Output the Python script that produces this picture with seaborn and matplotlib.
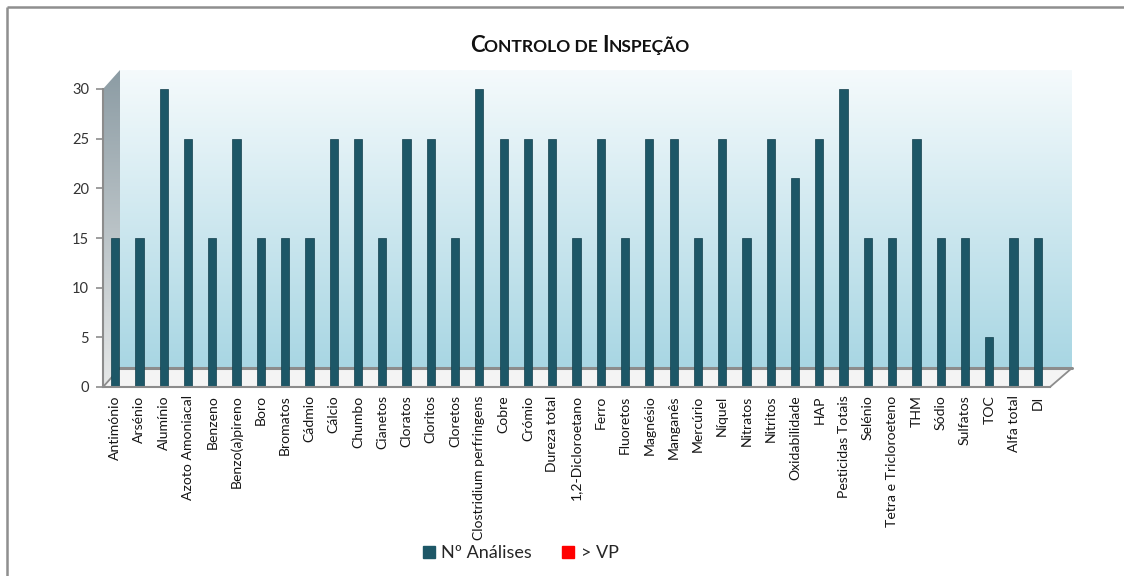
import numpy as np
import pandas as pd
import matplotlib
matplotlib.use("Agg")
import matplotlib.pyplot as plt
from matplotlib.patches import Polygon
from matplotlib.lines import Line2D
import seaborn as sns

# ---- data -------------------------------------------------------------
analitos = [
    "Antimónio", "Arsénio", "Alumínio", "Azoto Amoniacal", "Benzeno",
    "Benzo(a)pireno", "Boro", "Bromatos", "Cádmio", "Cálcio", "Chumbo",
    "Cianetos", "Cloratos", "Cloritos", "Cloretos", "Clostridium perfringens",
    "Cobre", "Crómio", "Dureza total", "1,2-Dicloroetano", "Ferro",
    "Fluoretos", "Magnésio", "Manganês", "Mercúrio", "Níquel", "Nitratos",
    "Nitritos", "Oxidabilidade", "HAP", "Pesticidas Totais", "Selénio",
    "Tetra e Tricloroeteno", "THM", "Sódio", "Sulfatos", "TOC", "Alfa total",
    "DI",
]
n_analises = [15, 15, 30, 25, 15, 25, 15, 15, 15, 25, 25, 15, 25, 25, 15, 30,
              25, 25, 25, 15, 25, 15, 25, 25, 15, 25, 15, 25, 21, 25, 30, 15,
              15, 25, 15, 15, 5, 15, 15]
acima_vp = [0] * len(analitos)
series = ["Nº Análises", "> VP"]
y_ticks = [0, 5, 10, 15, 20, 25, 30]

cores = {"Nº Análises": "#1d5767", "> VP": "#ff0000"}

df = pd.DataFrame({
    "analito": analitos * 2,
    "valor": n_analises + acima_vp,
    "serie": [series[0]] * len(analitos) + [series[1]] * len(analitos),
})

sns.set_theme(style="white")
plt.rcParams["font.family"] = ["Lato", "DejaVu Sans"]

W, H = 1124, 576
fig = plt.figure(figsize=(W / 100, H / 100), dpi=100)

# ---- background layer in pixel coordinates ---------------------------
bg = fig.add_axes([0, 0, 1, 1], zorder=0)
bg.set_xlim(0, W)
bg.set_ylim(H, 0)
bg.axis("off")

# frame lines (top and left)
bg.plot([7, 7], [7, H], color="#8f8f8f", lw=1.8, solid_capstyle="butt")
bg.plot([7, W], [7, 7], color="#8f8f8f", lw=1.8, solid_capstyle="butt")

# back wall with vertical gradient
top_c = np.array([245, 250, 252]) / 255
bot_c = np.array([168, 214, 227]) / 255
t = np.linspace(0, 1, 256)[:, None, None]
grad = top_c * (1 - t) + bot_c * t
bg.imshow(grad, extent=(120, 1072, 368, 70), aspect="auto", zorder=1,
          interpolation="bilinear")

# left side wall with gray gradient
side_poly = Polygon([(103, 387), (103, 89), (120, 70), (120, 368)],
                    closed=True, facecolor="none", edgecolor="none")
bg.add_patch(side_poly)
s_top = np.array([140, 156, 164]) / 255
s_bot = np.array([230, 232, 232]) / 255
sgrad = s_top * (1 - t) + s_bot * t
im_side = bg.imshow(sgrad, extent=(103, 120, 387, 70), aspect="auto",
                    zorder=1, interpolation="bilinear")
im_side.set_clip_path(side_poly)

# floor
floor = Polygon([(103, 387), (1050, 387), (1072, 368), (120, 368)],
                closed=True, facecolor="#f4f4f4", edgecolor="#8c8c8c",
                lw=1.3, zorder=2)
bg.add_patch(floor)
bg.plot([120, 1072], [368, 368], color="#8c8c8c", lw=2.2, zorder=2)

# ---- main axes --------------------------------------------------------
ax = fig.add_axes([103 / W, (H - 387) / H, 947 / W, 298 / H], zorder=2)
ax.set_facecolor("none")

sns.barplot(data=df, x="analito", y="valor", hue="serie", palette=cores,
            dodge=False, width=0.34, legend=False, ax=ax, saturation=1,
            edgecolor="#123f4c", linewidth=0.5)

ax.set_xlim(-0.5, len(analitos) - 0.5)
ax.set_ylim(0, 30)
ax.set_xlabel("")
ax.set_ylabel("")
ax.set_yticks(y_ticks)
ax.set_yticklabels([str(v) for v in y_ticks], fontsize=10.5, color="#333333")
ax.set_xticks(range(len(analitos)))
ax.set_xticklabels(analitos, rotation=90, fontsize=10.1, color="#151515")
ax.set_xticks(np.arange(-0.5, len(analitos), 1), minor=True)
ax.tick_params(axis="x", which="major", length=0, pad=6)
ax.tick_params(axis="x", which="minor", length=4, color="#8c8c8c",
               width=1.2, direction="out")
ax.tick_params(axis="y", length=5, color="#8c8c8c", width=1.2,
               direction="out", pad=5, left=True)
for side in ("top", "right"):
    ax.spines[side].set_visible(False)
for side in ("left", "bottom"):
    ax.spines[side].set_color("#8c8c8c")
    ax.spines[side].set_linewidth(1.5)

# ---- title in small caps ---------------------------------------------
pieces = [("C", 16), ("ONTROLO DE ", 12.6), ("I", 16), ("NSPEÇÃO", 12.6)]
renderer = fig.canvas.get_renderer()
texts = []
for s, fs in pieces:
    txt = bg.text(0, 52, s, fontsize=fs, fontweight="bold", color="#111111",
                  ha="left", va="baseline")
    texts.append(txt)
widths = [tx.get_window_extent(renderer).width for tx in texts]
x = 580 - sum(widths) / 2
for tx, w in zip(texts, widths):
    tx.set_x(x)
    x += w

# ---- legend ----------------------------------------------------------
handles = [Line2D([], [], marker="s", ls="", markersize=9,
                  markerfacecolor=cores[s], markeredgecolor=cores[s])
           for s in series]
fig.legend(handles, series, loc="center",
           bbox_to_anchor=(520 / W, 1 - 553 / H), ncol=2, frameon=False,
           fontsize=13, handlelength=0.8, handletextpad=0.3,
           columnspacing=1.6)

fig.savefig("out.png", dpi=100)
